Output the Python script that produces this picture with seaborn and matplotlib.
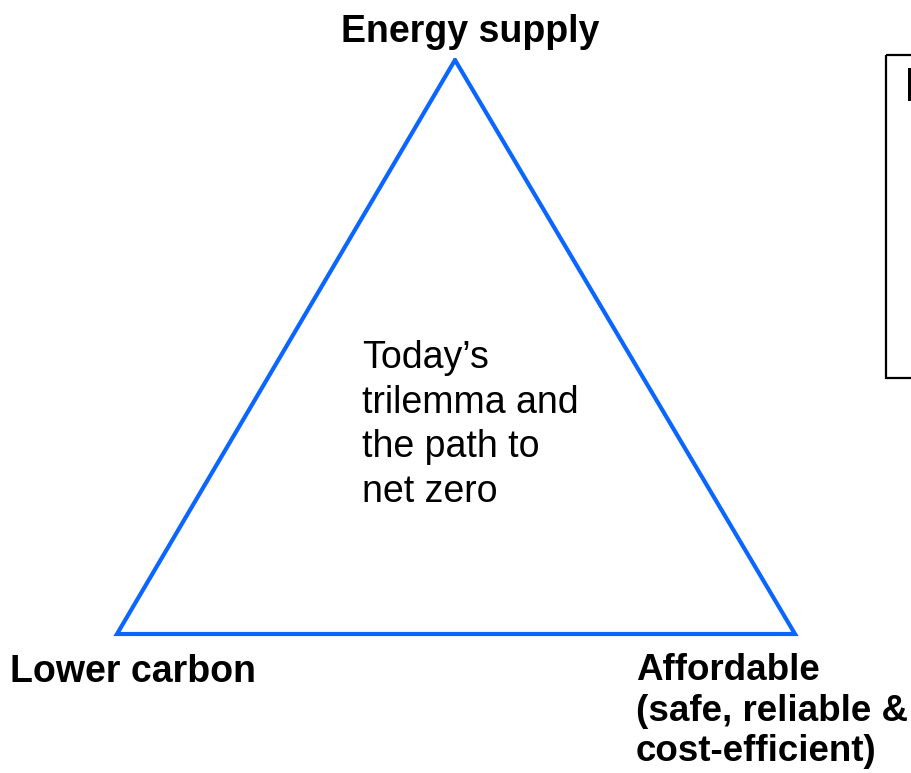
import matplotlib
matplotlib.use("Agg")
import matplotlib.pyplot as plt
from matplotlib.patches import Rectangle
import seaborn as sns
import pandas as pd

sns.set_theme(style="white")
plt.rcParams['font.family'] = ['Liberation Sans', 'DejaVu Sans']

# Triangle corners (pixel space of the 912x773 canvas, y downward)
corner_names = ["Energy supply", "Affordable", "Lower carbon", "Energy supply"]
corner_x = [455, 795, 117, 455]
corner_y = [60, 634, 634, 60]

corner_labels = ["Energy supply", "Lower carbon", "Affordable\n(safe, reliable &\ncost-efficient)"]
center_text = "Today\u2019s\ntrilemma and\nthe path to\nnet zero"

W, H = 912, 773
fig = plt.figure(figsize=(W / 100, H / 100), dpi=100)
ax = fig.add_axes([0, 0, 1, 1])

df = pd.DataFrame({"x": corner_x, "y": corner_y})
sns.lineplot(data=df, x="x", y="y", sort=False, estimator=None, ax=ax,
             color="#0a66ff", linewidth=3.0, solid_joinstyle="miter")
ax.set_xlim(0, W)
ax.set_ylim(H, 0)
ax.axis("off")

fs = 27
ax.text(470, 42, corner_labels[0], ha="center", va="baseline",
        fontsize=fs, fontweight="bold", color="black")
ax.text(10, 682, corner_labels[1], ha="left", va="baseline",
        fontsize=fs, fontweight="bold", color="black")
ax.text(636, 653, corner_labels[2], ha="left", va="top",
        fontsize=26.5, fontweight="bold", color="black", linespacing=1.21)
ax.text(362, 340, center_text, ha="left", va="top",
        fontsize=fs, color="black", linespacing=1.31)

# partially visible side box (clipped at the right edge)
ax.add_patch(Rectangle((886, 55), 60, 323, fill=False, edgecolor="black",
                       linewidth=1.6))
# visible stem of the clipped first letter inside the side box
ax.add_patch(Rectangle((908, 68), 6, 33, facecolor="black", edgecolor="none"))

fig.savefig("out.png", dpi=100)
